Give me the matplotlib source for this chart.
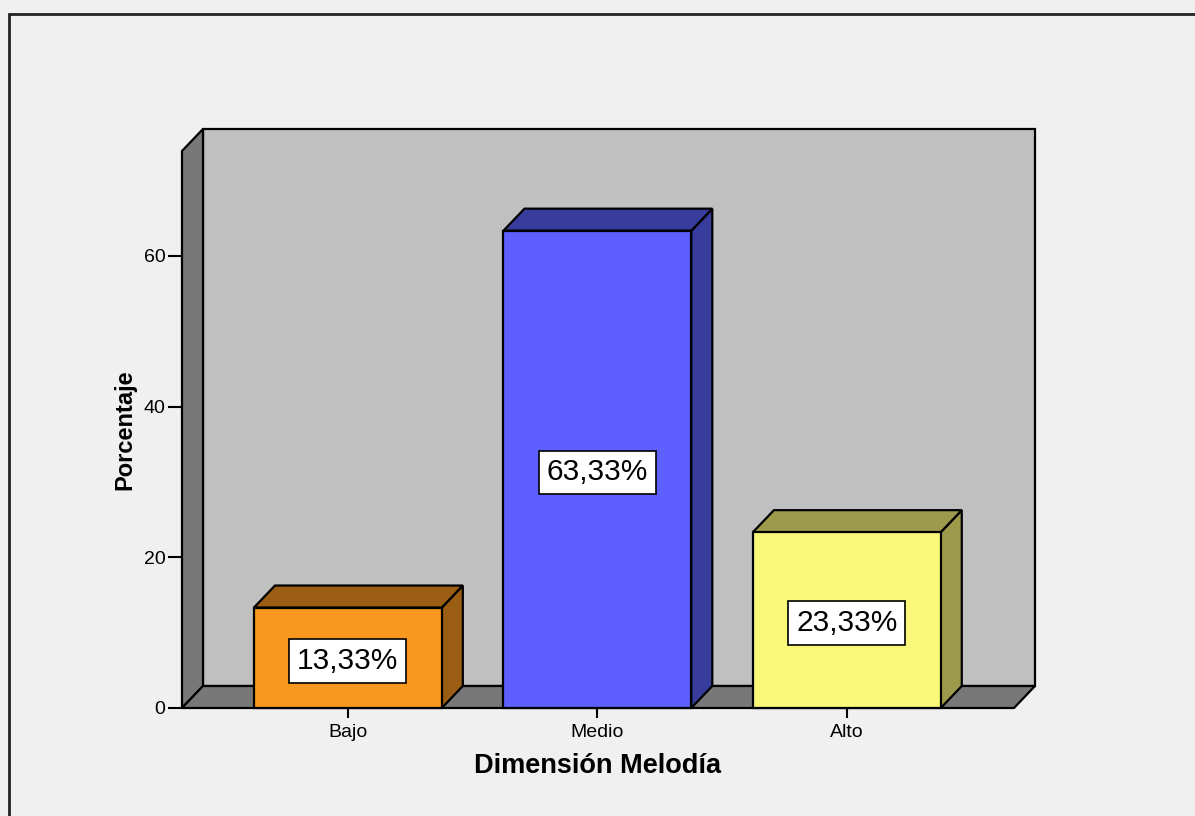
import matplotlib
matplotlib.use("Agg")
import matplotlib.pyplot as plt
from matplotlib.patches import Polygon, Rectangle
import numpy as np

plt.rcParams['font.family'] = ['Liberation Sans', 'DejaVu Sans']

# ---- data ----
categories = ["Bajo", "Medio", "Alto"]
values = [13.33, 63.33, 23.33]
value_labels = ["13,33%", "63,33%", "23,33%"]
yticks = [0, 20, 40, 60]
xlabel = "Dimensión Melodía"
ylabel = "Porcentaje"

# ---- styles ----
front_colors = ["#F8981E", "#5D60FF", "#FAF878"]
dark_colors = ["#9A5D13", "#383C9C", "#9E9A4B"]
bg = "#F0F0F0"
wall = "#C0C0C0"
side = "#787878"
W, H = 1195, 816
depth_px = (21, 22)
bar_width = 0.753

fig = plt.figure(figsize=(W / 100, H / 100), dpi=100, facecolor=bg)
# outer frame
fig.patches.append(Rectangle((9 / W, -0.05), 1.2, 1 - 14 / H + 0.05,
                             transform=fig.transFigure, fill=False,
                             edgecolor="#222222", linewidth=2.0, zorder=0))

ax = fig.add_axes([182 / W, 108 / H, 832 / W, 557 / H])
ax.set_facecolor("none")
for s in ax.spines.values():
    s.set_visible(False)
xmin, xmax = -0.665, 2.67
ymin, ymax = 0, 73.9
ax.set_xlim(xmin, xmax)
ax.set_ylim(ymin, ymax)

# depth offset in data units
p0 = ax.transData.transform((0, 0))
back = ax.transData.inverted().transform(p0 + np.array(depth_px))
ddx, ddy = back[0], back[1]

lw = 1.6
kw = dict(edgecolor="black", linewidth=lw, clip_on=False, joinstyle="miter")

# back wall
ax.add_patch(Polygon([(xmin + ddx, ddy), (xmax + ddx, ddy),
                      (xmax + ddx, ymax + ddy), (xmin + ddx, ymax + ddy)],
                     facecolor=wall, zorder=1, **kw))
# left wall
ax.add_patch(Polygon([(xmin, 0), (xmin, ymax), (xmin + ddx, ymax + ddy),
                      (xmin + ddx, ddy)], facecolor=side, zorder=2, **kw))
# floor
ax.add_patch(Polygon([(xmin, 0), (xmax, 0), (xmax + ddx, ddy),
                      (xmin + ddx, ddy)], facecolor=side, zorder=2, **kw))

x = np.arange(len(categories))
for i, (xi, v) in enumerate(zip(x, values)):
    l, r = xi - bar_width / 2, xi + bar_width / 2
    # right face
    ax.add_patch(Polygon([(r, 0), (r + ddx, ddy), (r + ddx, v + ddy), (r, v)],
                         facecolor=dark_colors[i], zorder=3, **kw))
    # top face
    ax.add_patch(Polygon([(l, v), (r, v), (r + ddx, v + ddy), (l + ddx, v + ddy)],
                         facecolor=dark_colors[i], zorder=3, **kw))
    # front face
    ax.add_patch(Polygon([(l, 0), (r, 0), (r, v), (l, v)],
                         facecolor=front_colors[i], zorder=4, **kw))
    ax.text(xi, v / 2, value_labels[i], ha="center", va="center_baseline",
            fontsize=21.5, zorder=6,
            bbox=dict(boxstyle="square,pad=0.26", facecolor="white",
                      edgecolor="black", linewidth=1.2))

ax.set_xticks(x)
ax.set_xticklabels(categories, fontsize=14)
ax.set_yticks(yticks)
ax.set_yticklabels([str(t) for t in yticks], fontsize=14)
ax.tick_params(axis="x", direction="out", length=7.5, width=1.5, pad=4)
ax.tick_params(axis="y", direction="out", length=10, width=1.5, pad=2)
ax.set_xlabel(xlabel, fontsize=19.5, fontweight="bold", labelpad=9)
ax.set_ylabel(ylabel, fontsize=17, fontweight="bold", labelpad=5)

fig.savefig("out.png", dpi=100, facecolor=bg)
